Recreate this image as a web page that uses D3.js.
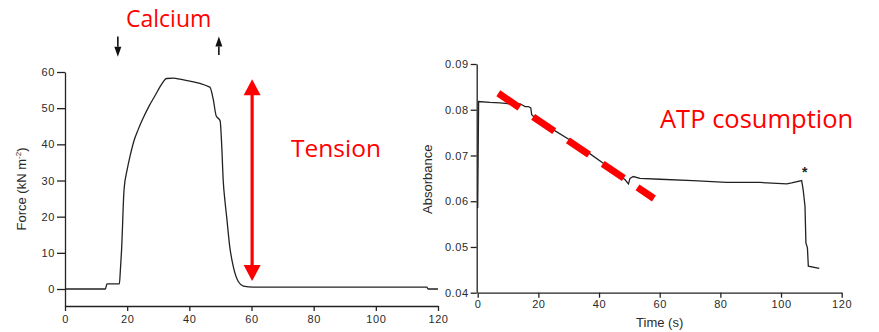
<!DOCTYPE html>
<html>
<head>
<meta charset="utf-8">
<script src="https://cdn.jsdelivr.net/npm/d3@7"></script>
<style>
  body { margin: 0; background: #fff; }
  svg { display: block; }
  .tick text { font-family: "Liberation Sans", Arial, sans-serif; font-size: 11px; fill: #2a2a2a; letter-spacing: 0.6px; }
  .axis path, .axis line { stroke: #222; stroke-width: 1.3; }
  .title { font-family: "Liberation Sans", Arial, sans-serif; font-size: 13px; fill: #2a2a2a; }
  .note { font-family: "Open Sans", sans-serif; fill: #ff0000; }
</style>
</head>
<body>
<div id="chart"></div>
<script>
// left panel: force trace (time s, force kN m^-2)
const forceTime  = [0, 13, 13.5, 17.5, 17.8, 18.2, 19, 20, 21, 22.2, 23.5, 25, 27, 29, 31, 32.7, 35, 37, 46.6, 47.7, 48.6, 49.9, 50.4, 50.9, 51.5, 52, 53, 54.2, 55.8, 57.4, 60.6, 116.4, 116.8, 120];
const forceValue = [0, 0, 1.4, 1.4, 5, 10.8, 27.5, 33, 37, 41, 44, 47, 50.5, 53.5, 56.5, 58.2, 58.3, 58, 55.8, 52.4, 48, 46.5, 40, 30, 24, 20, 11.7, 6, 2, 0.8, 0.5, 0.5, 0, 0];
const forceTicks = [0, 10, 20, 30, 40, 50, 60];

// right panel: absorbance trace (time s, absorbance)
const absTime  = [0, 0.3, 4, 7.4, 10.7, 14, 15.6, 16.7, 17.5, 17.8, 18.6, 25, 30.4, 35.9, 41.4, 45.8, 48.6, 49.7, 50.2, 51.3, 53.5, 60, 71, 82, 93, 101.9, 103.5, 106.8, 107.3, 107.9, 108.2, 108.7, 109, 112.6];
const absValue = [0.0585, 0.0818, 0.0816, 0.0815, 0.0813, 0.0813, 0.0807, 0.0807, 0.0804, 0.0789, 0.0784, 0.0756, 0.0734, 0.0709, 0.0683, 0.0661, 0.0647, 0.0638, 0.0650, 0.0654, 0.0650, 0.0648, 0.0645, 0.0641, 0.0641, 0.0638, 0.0640, 0.0645, 0.0625, 0.0589, 0.0509, 0.0498, 0.0458, 0.0453];
const absTicks = [0.04, 0.05, 0.06, 0.07, 0.08, 0.09];

const timeTicks = [0, 20, 40, 60, 80, 100, 120];

// annotations
const calciumOn = 17, calciumOff = 49.5;        // time of arrows
const tensionArrow = {t: 60.2, from: 2.2, to: 58}; // force range
const atpSlope = {t0: 6.8, a0: 0.0836, t1: 58.1, a1: 0.0606};

const W = 879, H = 332;
const svg = d3.select("#chart").append("svg").attr("width", W).attr("height", H);

// ---------- left panel ----------
const xL = d3.scaleLinear().domain([0, 120]).range([65, 438]);
const yL = d3.scaleLinear().domain([-4.7, 60]).range([306, 72]);

const gL = svg.append("g");
gL.append("g").attr("class", "axis")
  .attr("transform", `translate(0,${yL(-4.7)})`)
  .call(d3.axisBottom(xL).tickValues(timeTicks).tickSize(5).tickSizeOuter(0).tickPadding(4));
gL.append("g").attr("class", "axis")
  .attr("transform", `translate(${xL(0)},0)`)
  .call(d3.axisLeft(yL).tickValues(forceTicks).tickSize(8).tickSizeOuter(0).tickPadding(2));

const lineL = d3.line().x((d, i) => xL(forceTime[i])).y(d => yL(d)).curve(d3.curveMonotoneX);
gL.append("path").datum(forceValue)
  .attr("d", lineL).attr("fill", "none").attr("stroke", "#222").attr("stroke-width", 1.3);

gL.append("text").attr("class", "title")
  .attr("transform", `translate(21,${(yL(-4.7) + yL(60)) / 2}) rotate(-90)`)
  .attr("text-anchor", "middle").attr("dy", "0.35em")
  .call(t => {
    t.append("tspan").text("Force (kN m");
    t.append("tspan").text("-2").attr("font-size", "8px").attr("dy", "-5");
    t.append("tspan").text(")").attr("dy", "5");
  });

// calcium arrows (down = added, up = removed)
function blackArrow(x, yTail, yTip) {
  const dir = yTip > yTail ? 1 : -1;
  const base = yTip - dir * 10;
  gL.append("line").attr("x1", x).attr("x2", x).attr("y1", yTail).attr("y2", base)
    .attr("stroke", "#111").attr("stroke-width", 1.6);
  gL.append("path")
    .attr("d", `M${x - 3.5},${base}L${x + 3.5},${base}L${x},${yTip}Z`).attr("fill", "#111");
}
blackArrow(xL(calciumOn), yL(69.8), yL(64.2));
blackArrow(xL(calciumOff), yL(64.7), yL(69.8));

gL.append("text").attr("class", "note").attr("font-size", "23px")
  .attr("x", 126).attr("y", 27).text("Calcium");

// red double arrow for tension
{
  const x = xL(tensionArrow.t), yTop = yL(tensionArrow.to), yBot = yL(tensionArrow.from);
  const hl = 16, hw = 8.5;
  gL.append("line").attr("x1", x).attr("x2", x).attr("y1", yTop + hl - 1).attr("y2", yBot - hl + 1)
    .attr("stroke", "#ff0000").attr("stroke-width", 3.2);
  gL.append("path").attr("fill", "#ff0000")
    .attr("d", `M${x},${yTop}L${x + hw},${yTop + hl}L${x - hw},${yTop + hl}Z`);
  gL.append("path").attr("fill", "#ff0000")
    .attr("d", `M${x},${yBot}L${x + hw},${yBot - hl}L${x - hw},${yBot - hl}Z`);
}
gL.append("text").attr("class", "note").attr("font-size", "24.5px")
  .attr("x", 291).attr("y", 156.5).text("Tension");

// ---------- right panel ----------
const xR = d3.scaleLinear().domain([0, 120]).range([477.7, 841.7]);
const yR = d3.scaleLinear().domain([0.04, 0.09]).range([292.7, 64]);

const gR = svg.append("g");
gR.append("g").attr("class", "axis")
  .attr("transform", `translate(0,${yR(0.04)})`)
  .call(d3.axisBottom(xR).tickValues(timeTicks).tickSize(5).tickSizeOuter(0).tickPadding(3));
gR.append("g").attr("class", "axis")
  .attr("transform", `translate(${xR(0) - 1},0)`)
  .call(d3.axisLeft(yR).tickValues(absTicks).tickFormat(d3.format(".2f")).tickSize(6).tickSizeOuter(0).tickPadding(2));

const lineR = d3.line().x((d, i) => xR(absTime[i])).y(d => yR(d));
gR.append("path").datum(absValue)
  .attr("d", lineR).attr("fill", "none").attr("stroke", "#222").attr("stroke-width", 1.3);

gR.append("text").attr("x", xR(107.8)).attr("y", yR(0.0652))
  .attr("text-anchor", "middle").attr("font-family", "Liberation Sans, sans-serif")
  .attr("font-size", "14px").attr("font-weight", "bold").attr("fill", "#222").text("*");

gR.append("text").attr("class", "title")
  .attr("x", xR(60)).attr("y", 327).attr("text-anchor", "middle").attr("font-size", "12.5px").text("Time (s)");
gR.append("text").attr("class", "title")
  .attr("transform", `translate(427,${yR(0.0648)}) rotate(-90)`)
  .attr("text-anchor", "middle").attr("dy", "0.35em").text("Absorbance");

// red dashed trend of ATP consumption
gR.append("line")
  .attr("x1", xR(atpSlope.t0)).attr("y1", yR(atpSlope.a0))
  .attr("x2", xR(atpSlope.t1)).attr("y2", yR(atpSlope.a1))
  .attr("stroke", "#ff0000").attr("stroke-width", 7).attr("stroke-dasharray", "25.5 16.5");

gR.append("text").attr("class", "note").attr("font-size", "25.5px")
  .attr("x", 660).attr("y", 127.5).text("ATP cosumption");
</script>
</body>
</html>
